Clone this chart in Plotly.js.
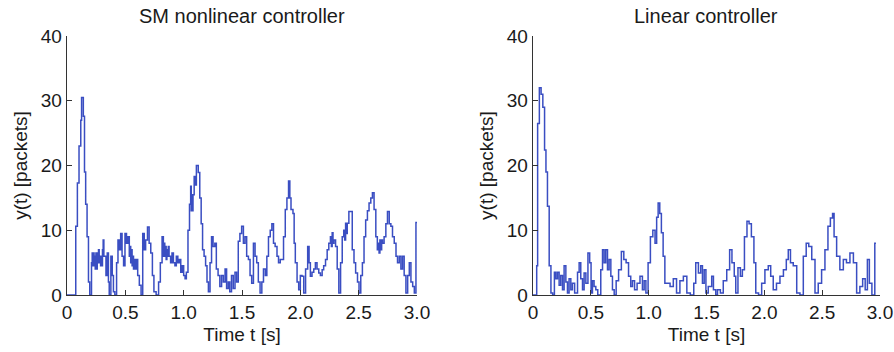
<!DOCTYPE html>
<html>
<head>
<meta charset="utf-8">
<script src="https://cdn.plot.ly/plotly-3.0.1.min.js"></script>
<style>
html,body{margin:0;padding:0;background:#fff;}
#chart{width:894px;height:352px;}
</style>
</head>
<body>
<div id="chart"></div>
<script>
// ---- Data ----
var subplotTitles = ["SM nonlinear controller", "Linear controller"];
var xTickVals = [0, 0.5, 1.0, 1.5, 2.0, 2.5, 3.0];
var xTickText = ["0", "0.5", "1.0", "1.5", "2.0", "2.5", "3.0"];
var yTickVals = [0, 10, 20, 30, 40];

var timeSM = [0.000,0.075,0.089,0.103,0.118,0.125,0.140,0.150,0.160,0.172,0.184,0.195,0.210,0.216,0.222,0.227,0.232,0.237,0.242,0.248,0.254,0.259,0.264,0.270,0.276,0.282,0.288,0.293,0.298,0.304,0.310,0.316,0.322,0.334,0.345,0.355,0.362,0.376,0.388,0.398,0.410,0.425,0.437,0.448,0.460,0.472,0.485,0.497,0.510,0.522,0.534,0.540,0.546,0.552,0.558,0.564,0.570,0.576,0.582,0.594,0.606,0.620,0.635,0.649,0.662,0.674,0.690,0.704,0.718,0.732,0.745,0.764,0.785,0.800,0.815,0.826,0.832,0.838,0.844,0.850,0.856,0.862,0.868,0.875,0.888,0.900,0.912,0.925,0.937,0.950,0.962,0.975,0.988,1.000,1.012,1.023,1.037,1.050,1.060,1.065,1.070,1.075,1.080,1.090,1.100,1.109,1.125,1.138,1.150,1.162,1.175,1.188,1.200,1.212,1.226,1.239,1.252,1.267,1.280,1.295,1.310,1.325,1.340,1.355,1.368,1.382,1.395,1.410,1.425,1.440,1.454,1.468,1.482,1.497,1.512,1.526,1.540,1.555,1.569,1.583,1.598,1.612,1.626,1.640,1.655,1.670,1.684,1.700,1.713,1.727,1.742,1.756,1.770,1.784,1.800,1.813,1.828,1.842,1.856,1.871,1.885,1.899,1.910,1.920,1.937,1.947,1.957,1.972,1.986,2.000,2.014,2.029,2.045,2.063,2.075,2.086,2.100,2.115,2.129,2.143,2.158,2.172,2.187,2.200,2.216,2.230,2.244,2.258,2.266,2.273,2.280,2.288,2.302,2.316,2.330,2.345,2.359,2.372,2.380,2.388,2.395,2.402,2.416,2.431,2.445,2.460,2.474,2.490,2.503,2.518,2.532,2.546,2.560,2.575,2.589,2.604,2.618,2.632,2.647,2.660,2.668,2.675,2.682,2.690,2.697,2.704,2.718,2.733,2.747,2.762,2.776,2.790,2.805,2.820,2.833,2.848,2.862,2.876,2.890,2.905,2.920,2.934,2.948,2.963,2.977,2.991,3.000];
var ySM = [0,10.6,17.3,23,27,30.5,27.6,19,14,9,2,0,5,6.5,4.5,6.5,4.5,6,4,6.5,4,6.5,5,7,5,6,4.5,6,4.5,7,8.5,6,6,3,6.5,2,0,6,3,0.5,0,5,8.5,7,9.5,6,4.5,9.5,8,9,6,7.5,5,7,4.5,6,4,5.5,4,5.5,3,1.5,0,9.5,7,8.5,10.5,8,6.5,3,0.5,0,2,5,9,6,8,6,7.5,5.5,7,6,7.5,6,5,6.5,5,4.5,6,5,5.5,3.5,4.5,3,2.5,3.5,10,14,16.8,13,15.5,13,15.5,18.3,17,20,18.9,15,11,7,6,4.5,2,0.5,5,9,7.5,8,4,3,1.3,3,2,4,1,2,0.5,3,1,3.5,2,8.3,9.5,10.6,8,9,6,5.5,3,1.8,8,6,5,2,0.3,2,4,3,6,9,10,11,8,7.5,6,5,5.5,5.5,9,13.2,15,17.6,15,13.2,12.6,8,5,2,0.8,3,2.9,0.3,4,7.5,5,2.9,3.5,4,5,4,3.4,3,3.9,4.5,5.5,7,8,9,7.5,9.6,8,8.5,7.5,4,0.3,5,9,10,8.5,11.1,9.5,11.1,12.9,12.9,7,5,3.4,2,0.3,3,5,9,11.6,13,14.2,15,15.8,13.2,9,7,8,6.5,8.5,7,8.5,8,9,11,12.9,11,10.6,9,8,6,5,6,4,6,3,0.3,3,5,2,1.3,0.3,11.2,11.2];

var timeLin = [0.000,0.032,0.040,0.055,0.070,0.085,0.100,0.112,0.125,0.140,0.155,0.170,0.185,0.198,0.212,0.226,0.240,0.255,0.269,0.284,0.298,0.312,0.327,0.341,0.360,0.385,0.399,0.413,0.428,0.442,0.457,0.475,0.490,0.502,0.514,0.528,0.543,0.560,0.586,0.601,0.615,0.629,0.644,0.658,0.673,0.687,0.702,0.719,0.740,0.764,0.785,0.805,0.826,0.845,0.860,0.878,0.900,0.925,0.946,0.961,0.976,0.995,1.015,1.036,1.055,1.069,1.082,1.096,1.110,1.125,1.140,1.160,1.185,1.213,1.241,1.270,1.300,1.330,1.360,1.390,1.407,1.430,1.450,1.465,1.480,1.495,1.515,1.545,1.560,1.580,1.595,1.620,1.645,1.675,1.700,1.720,1.740,1.753,1.772,1.793,1.810,1.828,1.850,1.868,1.888,1.910,1.926,1.950,1.977,2.005,2.034,2.055,2.077,2.105,2.135,2.165,2.190,2.207,2.226,2.250,2.280,2.308,2.337,2.362,2.384,2.410,2.438,2.466,2.495,2.524,2.550,2.571,2.590,2.603,2.625,2.653,2.683,2.710,2.740,2.770,2.798,2.826,2.850,2.872,2.891,2.908,2.930,2.955,2.965];
var yLin = [0,4.5,26.5,32,31,29,22.4,19,13.7,4.5,0.3,0,3.5,2.5,3.5,1.5,3,0.8,4.5,2,0.3,2.5,0.8,1.8,0.3,3.5,5,2.5,0.8,3.4,1.8,6.5,5,0.3,2.2,1.3,0.8,0,3.9,7,5,7,3.9,5.5,2.9,0.8,0,2.2,3.9,6.7,5.5,5,2.9,1.3,2.2,0.8,1.8,2.9,0.8,2.2,0.3,5,9,10,8,12,14.2,12.6,9.6,6,1.8,1.8,1.3,2.5,0.3,2.2,2.9,0.3,0,1.8,5,3.4,4.5,1.8,3.9,0.3,1.3,2.9,0.8,0,0.8,0.3,2.2,3.9,7,5,2.9,0.3,4.2,2.9,3.9,9,11.4,11,9,5,0.3,0,1.8,3.9,4.5,2.9,0.8,1.8,2.9,3.9,5.5,7,5,4.5,0.3,0,6,8,7.5,5.5,0.3,1.8,3.9,7,10.6,11.9,12.6,9,6,3.9,5.5,5,6.5,5,0.3,1.3,2.5,0.8,5.5,1.8,0,8,8];

// ---- Styles ----
var lineColor = '#3a4ec2';
var fontFamily = '"Liberation Sans", Arial, Helvetica, sans-serif';
var textColor = '#1a1a1a';

var traces = [
  {x: timeSM, y: ySM, type: 'scatter', mode: 'lines', line: {shape: 'hv', color: lineColor, width: 1.5}, xaxis: 'x', yaxis: 'y', hoverinfo: 'x+y'},
  {x: timeLin, y: yLin, type: 'scatter', mode: 'lines', line: {shape: 'hv', color: lineColor, width: 1.5}, xaxis: 'x2', yaxis: 'y2', hoverinfo: 'x+y'}
];

function xAxis(domain, anchor) {
  return {
    domain: domain, anchor: anchor, range: [0, 3.0],
    tickmode: 'array', tickvals: xTickVals, ticktext: xTickText,
    ticks: 'inside', ticklen: 5, tickcolor: '#333', tickwidth: 1,
    showline: true, linecolor: '#333', linewidth: 1.3,
    showgrid: false, zeroline: false, fixedrange: true,
    tickfont: {family: fontFamily, size: 19, color: textColor},
    title: {text: 'Time t [s]', font: {family: fontFamily, size: 19, color: textColor}, standoff: 5}
  };
}
function yAxis(anchor) {
  return {
    domain: [0, 1], anchor: anchor, range: [0, 40],
    tickmode: 'array', tickvals: yTickVals,
    ticks: 'inside', ticklen: 5, tickcolor: '#333', tickwidth: 1,
    showline: true, linecolor: '#333', linewidth: 1.3,
    showgrid: false, zeroline: false, fixedrange: true,
    tickfont: {family: fontFamily, size: 19, color: textColor},
    title: {text: 'y(t) [packets]', font: {family: fontFamily, size: 19, color: textColor}, standoff: 8}
  };
}

var layout = {
  width: 894, height: 352,
  margin: {l: 0, r: 0, t: 36, b: 57, pad: 0},
  paper_bgcolor: '#fff', plot_bgcolor: '#fff',
  showlegend: false,
  xaxis: xAxis([67/894, 417/894], 'y'),
  yaxis: yAxis('x'),
  xaxis2: xAxis([533/894, 880/894], 'y2'),
  yaxis2: yAxis('x2'),
  annotations: [
    {text: subplotTitles[0], xref: 'paper', yref: 'paper', x: 242/894, y: 1, yshift: 20, xanchor: 'center', yanchor: 'middle', showarrow: false, font: {family: fontFamily, size: 20, color: textColor}},
    {text: subplotTitles[1], xref: 'paper', yref: 'paper', x: 706/894, y: 1, yshift: 20, xanchor: 'center', yanchor: 'middle', showarrow: false, font: {family: fontFamily, size: 20, color: textColor}}
  ]
};

Plotly.newPlot('chart', traces, layout, {displayModeBar: false, staticPlot: true});
</script>
</body>
</html>
